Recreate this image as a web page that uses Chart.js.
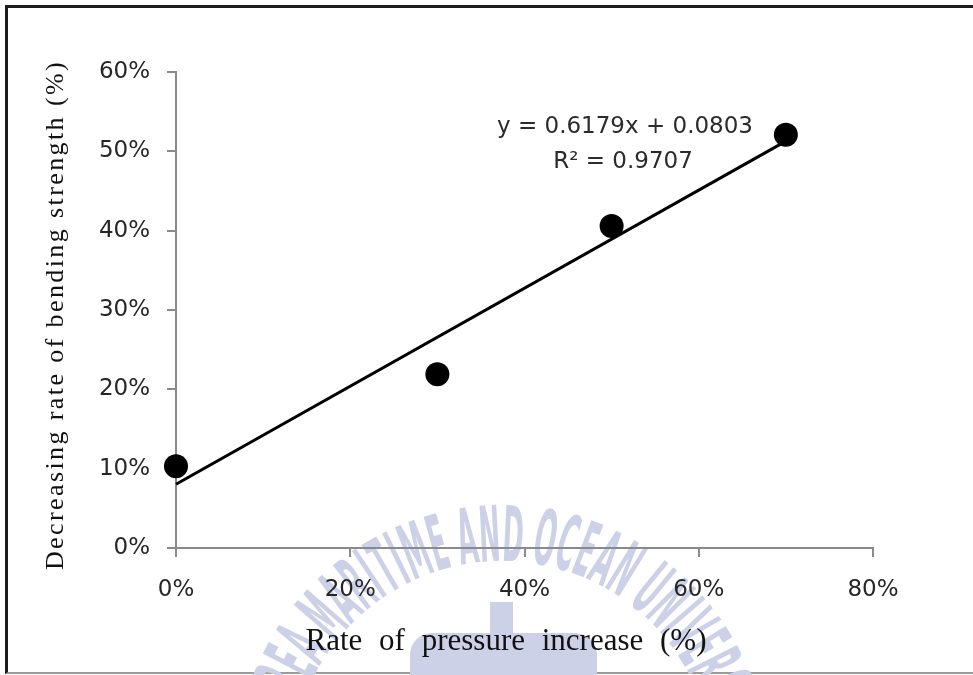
<!DOCTYPE html>
<html>
<head>
<meta charset="utf-8">
<title>Decreasing rate of bending strength</title>
<script src="https://cdn.jsdelivr.net/npm/chart.js@4.4.0/dist/chart.umd.min.js"></script>
<style>
  html, body { margin: 0; padding: 0; background: #fff; }
  #frame {
    position: absolute; left: 5px; top: 5px; width: 968px; height: 669px;
    box-sizing: border-box;
    border-left: 3px solid #1c1c1c; border-top: 3px solid #1c1c1c; border-bottom: 2px solid #9a9a9a;
  }
  #chart { position: absolute; left: 0; top: 0; }
</style>
</head>
<body>
<div id="frame"></div>
<canvas id="chart" width="973" height="675"></canvas>
<script>
// measured points: pressure increase vs. loss of bending strength
const pressureRise = [0, 0.30, 0.50, 0.70];
const strengthDrop = [0.103, 0.219, 0.406, 0.521];

// linear fit y = a*x + b, drawn over the measured range
const trendCoef = [0.6179, 0.0803];
const trendRange = [0, 0.70];
const rSquared = 0.9707;

const xTicks = [0, 0.2, 0.4, 0.6, 0.8];
const yTicks = [0, 0.1, 0.2, 0.3, 0.4, 0.5, 0.6];

const xTitle = "Rate of pressure increase (%)";
const yTitle = "Decreasing rate of bending strength (%)";
const markText = "KOREA MARITIME AND OCEAN UNIVERSITY";

const pct = v => Math.round(v * 100) + "%";

const points = pressureRise.map((x, i) => ({ x: x, y: strengthDrop[i] }));
const trend = trendRange.map(x => ({ x: x, y: trendCoef[0] * x + trendCoef[1] }));

// faint seal behind the plot: lettering set along an arc, then the emblem
const watermark = {
    id: "watermark",
    beforeDraw(chart) {
        const ctx = chart.ctx;
        const cx = 502, cy = 772, r = 231;
        const sx = 0.88, sy = 2.4, gap = 1.8;
        ctx.save();
        ctx.fillStyle = "#cdd1e8";
        ctx.textAlign = "center";
        ctx.textBaseline = "middle";
        ctx.font = 'bold 32px "DejaVu Sans Condensed", "DejaVu Sans", sans-serif';

        // arc position of every glyph centre
        const widths = [...markText].map(ch => ch === " " ? 7 : ctx.measureText(ch).width * sx);
        const centres = [];
        let s = 0;
        widths.forEach(w => { centres.push(s + w / 2); s += w + gap; });
        const shift = centres[16] + r * (3 * Math.PI / 180);

        for (let i = 0; i < markText.length; i++) {
            if (markText[i] === " ") continue;
            const a = (centres[i] - shift) / r;
            ctx.save();
            ctx.translate(cx + r * Math.sin(a), cy - r * Math.cos(a));
            ctx.rotate(a);
            ctx.scale(sx, sy);
            ctx.fillText(markText[i], 0, 0);
            ctx.restore();
        }
        ctx.fillRect(490, 602, 23, 80);
        ctx.beginPath();
        ctx.roundRect(410, 633, 187, 60, [22, 22, 0, 0]);
        ctx.fill();
        ctx.restore();
    }
};

// axis titles and the fit equation
const labels = {
    id: "labels",
    afterDraw(chart) {
        const ctx = chart.ctx;
        ctx.save();
        ctx.fillStyle = "#111";
        ctx.textAlign = "center";
        ctx.textBaseline = "alphabetic";

        ctx.font = '31px "Liberation Serif", serif';
        ctx.wordSpacing = "9px";
        ctx.fillText(xTitle, 506, 650);
        ctx.wordSpacing = "0px";

        ctx.save();
        ctx.translate(63, 315);
        ctx.rotate(-Math.PI / 2);
        ctx.font = '26px "Liberation Serif", serif';
        ctx.letterSpacing = "2.4px";
        ctx.fillText(yTitle, 0, 0);
        ctx.restore();

        ctx.fillStyle = "#2b2b2b";
        ctx.font = '23px "DejaVu Sans", sans-serif';
        const sign = trendCoef[1] >= 0 ? " + " : " - ";
        ctx.fillText("y = " + trendCoef[0].toFixed(4) + "x" + sign + Math.abs(trendCoef[1]).toFixed(4), 625, 133);
        ctx.fillText("R\u00B2 = " + rSquared.toFixed(4), 623, 168);
        ctx.restore();
    }
};

const axisColor = "#8a8a8a";

new Chart(document.getElementById("chart"), {
    type: "scatter",
    data: {
        datasets: [
            {
                label: "measured",
                data: points,
                backgroundColor: "#000",
                borderWidth: 0,
                pointRadius: 12,
                pointHoverRadius: 12,
                clip: false
            },
            {
                label: "fit",
                data: trend,
                showLine: true,
                borderColor: "#000",
                borderWidth: 3,
                pointRadius: 0,
                clip: false
            }
        ]
    },
    options: {
        responsive: false,
        animation: false,
        layout: { padding: { left: 0, right: 100, top: 72, bottom: 0 } },
        plugins: {
            legend: { display: false },
            tooltip: { enabled: false }
        },
        scales: {
            x: {
                type: "linear",
                min: 0,
                max: 0.8,
                afterBuildTicks: s => { s.ticks = xTicks.map(v => ({ value: v })); },
                afterFit: s => { s.height = 127; },
                border: { color: axisColor, width: 2 },
                grid: { drawOnChartArea: false, color: axisColor, lineWidth: 2, tickLength: 9 },
                ticks: {
                    callback: pct,
                    color: "#262626",
                    padding: 19,
                    maxRotation: 0,
                    font: { family: "DejaVu Sans", size: 23 }
                }
            },
            y: {
                type: "linear",
                min: 0,
                max: 0.6,
                afterBuildTicks: s => { s.ticks = yTicks.map(v => ({ value: v })); },
                afterFit: s => { s.width = 176; },
                border: { color: axisColor, width: 2 },
                grid: { drawOnChartArea: false, color: axisColor, lineWidth: 2, tickLength: 9 },
                ticks: {
                    callback: pct,
                    color: "#262626",
                    padding: 17,
                    font: { family: "DejaVu Sans", size: 23 }
                }
            }
        }
    },
    plugins: [watermark, labels]
});
</script>
</body>
</html>
